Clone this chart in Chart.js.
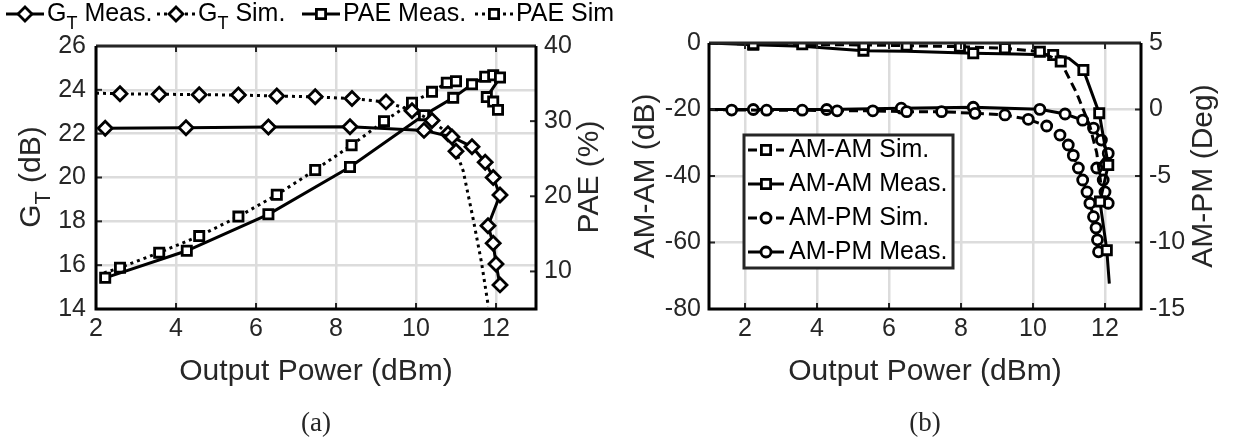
<!DOCTYPE html>
<html>
<head>
<meta charset="utf-8">
<script src="https://cdn.jsdelivr.net/npm/chart.js@4/dist/chart.umd.min.js"></script>
<style>
  body { margin: 0; background: #fff; }
  #a { position: absolute; left: 0; top: 0; }
  #b { position: absolute; left: 620px; top: 0; }
</style>
</head>
<body>
<canvas id="a" width="620" height="448"></canvas>
<canvas id="b" width="615" height="448"></canvas>
<script>
// ---- tick labels ----
const xTicksA = [2, 4, 6, 8, 10, 12];
const gtTicks = [14, 16, 18, 20, 22, 24, 26];
const paeTicks = [10, 20, 30, 40];
const xTicksB = [2, 4, 6, 8, 10, 12];
const amTicks = [-80, -60, -40, -20, 0];
const pmTicks = [-15, -10, -5, 0, 5];

// ---- (a) gain / PAE vs output power ----
const gtMeasP = [2.23, 4.25, 6.31, 8.35, 10.2, 10.9, 11.4, 11.73, 11.93, 12.1, 11.8, 11.93, 12.0, 12.1];
const gtMeasG = [22.25, 22.27, 22.3, 22.32, 22.15, 21.85, 21.4, 20.7, 20.0, 19.2, 17.8, 17.0, 16.05, 15.1];

const gtSimP = [2.0, 2.6, 3.58, 4.58, 5.56, 6.52, 7.48, 8.4, 9.25, 9.9, 10.4, 10.8, 11.0, 11.18, 11.43, 11.64, 11.81];
const gtSimG = [23.85, 23.82, 23.8, 23.78, 23.76, 23.72, 23.68, 23.6, 23.45, 23.05, 22.6, 22.0, 21.2, 20.3, 18.1, 16.1, 14.1];

const paeMeasP = [2.23, 4.27, 6.31, 8.35, 10.2, 10.93, 11.4, 11.73, 11.93, 12.1, 11.77, 11.93, 12.05];
const paeMeasV = [9.15, 12.75, 17.6, 23.9, 30.8, 33.1, 34.9, 35.9, 36.1, 35.8, 33.2, 32.6, 31.5];

const paeSimP = [2.2, 2.6, 3.58, 4.58, 5.56, 6.52, 7.48, 8.39, 9.2, 9.9, 10.4, 10.77, 11.0, 11.2];
const paeSimV = [9.8, 10.5, 12.5, 14.7, 17.3, 20.2, 23.5, 26.8, 30.0, 32.45, 33.9, 35.1, 35.3, 35.2];

// ---- (b) AM-AM / AM-PM vs output power ----
const amSimP = [1.0, 2.23, 3.59, 5.3, 6.49, 7.97, 9.22, 10.19, 10.77, 11.21, 11.58, 11.77, 11.88];
const amSimV = [0, -0.3, -0.4, -0.6, -0.8, -1.1, -1.6, -2.6, -5.6, -15, -25, -33, -42];

const amMeasP = [1.0, 2.23, 3.59, 5.29, 6.49, 8.34, 9.5, 10.56, 11.0, 11.4, 11.84, 12.09, 11.86, 12.05, 12.12];
const amMeasV = [0, -0.5, -1.0, -2.3, -2.5, -3.1, -3.3, -3.6, -4.6, -8.1, -21.1, -36.7, -47.7, -62.3, -72.4];

const pmSimP = [1.0, 1.63, 2.6, 3.59, 4.56, 5.55, 6.49, 7.46, 8.39, 9.22, 9.87, 10.38, 10.75, 10.98, 11.12, 11.26, 11.38, 11.5, 11.58, 11.68, 11.75, 11.79, 11.82];
const pmSimV = [0, -0.04, -0.05, -0.05, -0.1, -0.1, -0.16, -0.16, -0.29, -0.41, -0.74, -1.24, -1.92, -2.67, -3.45, -4.4, -5.3, -6.2, -7.05, -8.06, -8.9, -9.8, -10.7];

const pmMeasP = [1.0, 2.23, 4.27, 6.34, 8.34, 10.19, 10.89, 11.38, 11.68, 11.9, 12.09, 11.77, 11.95, 12.0, 12.09];
const pmMeasV = [0, 0, 0, 0.1, 0.17, 0.01, -0.34, -0.8, -1.4, -2.3, -3.3, -4.4, -5.3, -6.2, -7.05];

// ---- styling ----
Chart.defaults.font.family = '"Liberation Sans", Arial, sans-serif';
Chart.defaults.color = '#262626';
const GRID = '#dcdcdc';
const INK = '#000';
const LW = 3;
const MW = 2.8;

const pts = (xs, ys) => xs.map((x, i) => ({ x, y: ys[i] }));

const styles = {
  solid: [],
  dotted: [3, 4],
  dashed: [9, 5]
};

function series(label, xs, ys, yAxisID, dash, marker, r, hidden) {
  return {
    label, data: pts(xs, ys), yAxisID, showLine: true,
    borderColor: INK, borderWidth: LW, borderDash: dash,
    pointStyle: marker, pointBorderColor: INK, pointBackgroundColor: '#fff',
    pointBorderWidth: MW,
    pointRadius: c => hidden.includes(c.dataIndex) ? 0 : r,
    pointHoverRadius: 0, tension: 0, fill: false
  };
}

function drawMarker(ctx, style, r, x, y) {
  ctx.save();
  ctx.setLineDash([]);
  ctx.lineWidth = MW;
  ctx.fillStyle = '#fff';
  ctx.strokeStyle = INK;
  ctx.beginPath();
  if (style === 'rectRot') {
    ctx.moveTo(x - r, y); ctx.lineTo(x, y - r); ctx.lineTo(x + r, y); ctx.lineTo(x, y + r); ctx.closePath();
  } else if (style === 'rect') {
    const s = r * Math.SQRT1_2;
    ctx.rect(x - s, y - s, 2 * s, 2 * s);
  } else {
    ctx.arc(x, y, r, 0, Math.PI * 2);
  }
  ctx.fill(); ctx.stroke();
  ctx.restore();
}

// text with optional subscripts: segs = [[text, isSub], ...]
function richWidth(ctx, segs, size, fam) {
  let w = 0;
  segs.forEach(([t, sub]) => {
    ctx.font = (sub ? size * 0.72 : size) + 'px ' + fam;
    w += ctx.measureText(t).width;
  });
  return w;
}
function drawRich(ctx, segs, x, y, size, fam, align) {
  const w = richWidth(ctx, segs, size, fam);
  let cx = align === 'center' ? x - w / 2 : x;
  ctx.textBaseline = 'middle';
  ctx.textAlign = 'left';
  segs.forEach(([t, sub]) => {
    ctx.font = (sub ? size * 0.72 : size) + 'px ' + fam;
    ctx.fillText(t, cx, sub ? y + size * 0.4 : y);
    cx += ctx.measureText(t).width;
  });
}

const SANS = '"Liberation Sans", Arial, sans-serif';
const SERIF = '"Liberation Serif", "DejaVu Serif", serif';

const decor = {
  id: 'decor',
  afterDraw(chart) {
    const o = chart.options.plugins.decor;
    const { ctx, chartArea: a } = chart;
    ctx.save();
    // inward tick marks
    ctx.strokeStyle = '#262626';
    ctx.lineWidth = 2;
    ctx.setLineDash([]);
    const tl = 6;
    chart.scales.x.ticks.forEach(t => {
      const px = chart.scales.x.getPixelForValue(t.value);
      ctx.beginPath();
      ctx.moveTo(px, a.bottom); ctx.lineTo(px, a.bottom - tl);
      ctx.moveTo(px, a.top); ctx.lineTo(px, a.top + tl);
      ctx.stroke();
    });
    o.yAxes.forEach(id => {
      const s = chart.scales[id];
      const edge = s.position === 'left' ? a.left : a.right;
      const dir = s.position === 'left' ? 1 : -1;
      s.ticks.forEach(t => {
        const py = s.getPixelForValue(t.value);
        ctx.beginPath();
        ctx.moveTo(edge, py); ctx.lineTo(edge + dir * tl, py);
        ctx.stroke();
      });
    });
    // axes box
    ctx.lineWidth = 3;
    ctx.strokeStyle = '#262626';
    ctx.beginPath();
    ctx.moveTo(a.left, a.top); ctx.lineTo(a.right, a.top);
    ctx.stroke();
    ctx.strokeStyle = INK;
    ctx.beginPath();
    ctx.moveTo(a.right, a.top); ctx.lineTo(a.right, a.bottom);
    ctx.lineTo(a.left, a.bottom); ctx.lineTo(a.left, a.top);
    ctx.stroke();

    // axis titles
    ctx.fillStyle = '#262626';
    o.titles.forEach(t => {
      ctx.save();
      ctx.translate(t.x, t.y);
      if (t.rot) ctx.rotate(t.rot);
      drawRich(ctx, t.segs, 0, 0, t.size, t.fam || SANS, 'center');
      ctx.restore();
    });

    // legend
    const L = o.legend;
    if (L.box) {
      ctx.fillStyle = '#fff';
      ctx.fillRect(L.box.x, L.box.y, L.box.w, L.box.h);
      ctx.strokeStyle = '#262626';
      ctx.lineWidth = 3;
      ctx.strokeRect(L.box.x, L.box.y, L.box.w, L.box.h);
    }
    L.items.forEach((it, i) => {
      const ds = chart.data.datasets[i];
      const x0 = it.x, y0 = it.y;
      ctx.strokeStyle = INK;
      ctx.lineWidth = LW;
      ctx.setLineDash(ds.borderDash);
      ctx.beginPath();
      ctx.moveTo(x0, y0); ctx.lineTo(x0 + L.sampleW, y0);
      ctx.stroke();
      ctx.setLineDash([]);
      drawMarker(ctx, ds.pointStyle, L.r[i], x0 + L.sampleW / 2, y0);
      ctx.fillStyle = '#000';
      drawRich(ctx, it.segs, x0 + L.sampleW + L.gap, y0, L.size, SANS, 'left');
    });
    ctx.restore();
  }
};

function axisX(ticks, min, max) {
  return {
    type: 'linear', min, max,
    afterBuildTicks: s => { s.ticks = ticks.map(v => ({ value: v })); },
    afterFit: s => { s.height = 139; },
    grid: { color: GRID, lineWidth: 2.5, drawTicks: false },
    border: { display: false },
    ticks: { font: { size: 25 }, padding: 5, maxRotation: 0, autoSkip: false }
  };
}
function axisY(ticks, min, max, pos, width, grid, pad) {
  return {
    type: 'linear', position: pos, min, max,
    afterBuildTicks: s => { s.ticks = ticks.map(v => ({ value: v })); },
    afterFit: s => { s.width = width; },
    grid: { display: grid, color: GRID, lineWidth: 2.5, drawTicks: false },
    border: { display: false },
    ticks: { font: { size: 25 }, padding: pad, autoSkip: false }
  };
}

// ---- chart (a) ----
new Chart(document.getElementById('a'), {
  type: 'scatter',
  data: {
    datasets: [
      series('GT Meas.', gtMeasP, gtMeasG, 'yG', styles.solid, 'rectRot', 7, []),
      series('GT Sim.', gtSimP, gtSimG, 'yG', styles.dotted, 'rectRot', 7, [0, 13, 14, 15, 16]),
      series('PAE Meas.', paeMeasP, paeMeasV, 'yP', styles.solid, 'rect', 6.5, []),
      series('PAE Sim', paeSimP, paeSimV, 'yP', styles.dotted, 'rect', 6.5, [0, 13])
    ]
  },
  options: {
    responsive: false, animation: false,
    layout: { padding: { top: 46, left: 0, right: 0, bottom: 0 } },
    scales: {
      x: axisX(xTicksA, 2, 13),
      yG: axisY(gtTicks, 14, 26, 'left', 96, true, 10),
      yP: axisY(paeTicks, 5, 40, 'right', 84, false, 8)
    },
    plugins: {
      legend: { display: false },
      tooltip: { enabled: false },
      decor: {
        yAxes: ['yG', 'yP'],
        titles: [
          { segs: [['G'], ['T', true], [' (dB)']], x: 32, y: 177, size: 30, rot: -Math.PI / 2 },
          { segs: [['PAE (%)']], x: 590, y: 177, size: 30, rot: -Math.PI / 2 },
          { segs: [['Output Power (dBm)']], x: 316, y: 372, size: 30 },
          { segs: [['(a)']], x: 316, y: 424, size: 27, fam: SERIF }
        ],
        legend: {
          sampleW: 38, gap: 3, size: 25, r: [7, 7, 6.5, 6.5],
          items: [
            { x: 6, y: 14, segs: [['G'], ['T', true], [' Meas.']] },
            { x: 157, y: 14, segs: [['G'], ['T', true], [' Sim.']] },
            { x: 302, y: 14, segs: [['PAE Meas.']] },
            { x: 475, y: 14, segs: [['PAE Sim']] }
          ]
        }
      }
    }
  },
  plugins: [decor]
});

// ---- chart (b) ----
new Chart(document.getElementById('b'), {
  type: 'scatter',
  data: {
    datasets: [
      series('AM-AM Sim.', amSimP, amSimV, 'yA', styles.dashed, 'rect', 6.5, [0, 9, 10, 11, 12]),
      series('AM-AM Meas.', amMeasP, amMeasV, 'yA', styles.solid, 'rect', 6.5, [0, 2, 4, 6, 8, 14]),
      series('AM-PM Sim.', pmSimP, pmSimV, 'yM', styles.dashed, 'circle', 5, [0]),
      series('AM-PM Meas.', pmMeasP, pmMeasV, 'yM', styles.solid, 'circle', 5, [0])
    ]
  },
  options: {
    responsive: false, animation: false,
    layout: { padding: { top: 43, left: 0, right: 0, bottom: 0 } },
    scales: {
      x: axisX(xTicksB, 1, 13),
      yA: axisY(amTicks, -80, 0, 'left', 89, true, 8),
      yM: axisY(pmTicks, -15, 5, 'right', 94, false, 8)
    },
    plugins: {
      legend: { display: false },
      tooltip: { enabled: false },
      decor: {
        yAxes: ['yA', 'yM'],
        titles: [
          { segs: [['AM-AM (dB)']], x: 26, y: 176, size: 30, rot: -Math.PI / 2 },
          { segs: [['AM-PM (Deg)']], x: 584, y: 176, size: 30, rot: -Math.PI / 2 },
          { segs: [['Output Power (dBm)']], x: 305, y: 372, size: 30 },
          { segs: [['(b)']], x: 305, y: 424, size: 27, fam: SERIF }
        ],
        legend: {
          box: { x: 124, y: 135, w: 209, h: 133 },
          sampleW: 36, gap: 5, size: 25, r: [6.5, 6.5, 5, 5],
          items: [
            { x: 128, y: 150, segs: [['AM-AM Sim.']] },
            { x: 128, y: 184, segs: [['AM-AM Meas.']] },
            { x: 128, y: 218, segs: [['AM-PM Sim.']] },
            { x: 128, y: 252, segs: [['AM-PM Meas.']] }
          ]
        }
      }
    }
  },
  plugins: [decor]
});
</script>
</body>
</html>
